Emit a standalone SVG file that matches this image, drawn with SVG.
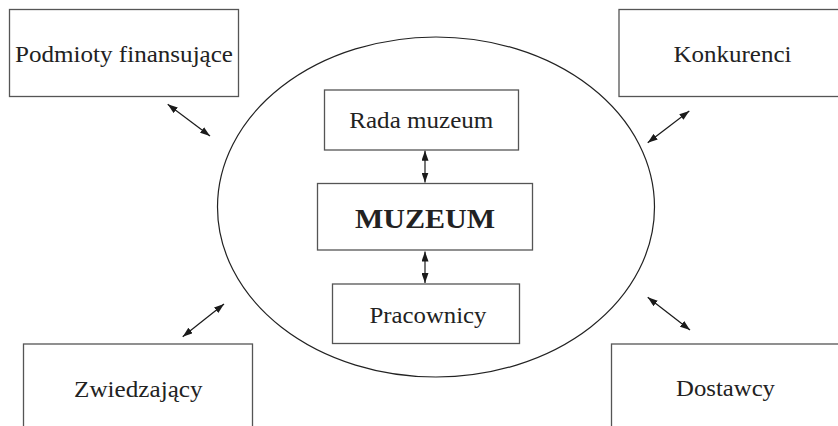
<svg xmlns="http://www.w3.org/2000/svg" width="838" height="426" viewBox="0 0 838 426">
  <defs>
    <marker id="head" viewBox="0 0 10 7" refX="10" refY="3.5" markerUnits="userSpaceOnUse" markerWidth="10" markerHeight="7" orient="auto-start-reverse">
      <path d="M0,0 L10,3.5 L0,7 z" fill="#1a1a1a"/>
    </marker>
  </defs>
  <style>
    .box { fill: #fff; stroke: #555; stroke-width: 1.3; }
    .ring { fill: none; stroke: #222; stroke-width: 1.2; }
    .lbl { font-family: "Liberation Serif", "Times New Roman", serif; font-size: 23px; fill: #222; text-anchor: middle; }
    .big { font-family: "Liberation Serif", "Times New Roman", serif; font-size: 27px; font-weight: bold; fill: #222; text-anchor: middle; }
    .link { stroke: #1a1a1a; stroke-width: 1.2; fill: none; marker-start: url(#head); marker-end: url(#head); }
  </style>
  <rect width="838" height="426" fill="#fff"/>

  <!-- museum environment -->
  <ellipse class="ring" cx="436" cy="207" rx="218.5" ry="170"/>

  <g id="podmioty">
    <rect class="box" x="9.5" y="9.5" width="229" height="87"/>
    <text class="lbl" x="124" y="62" textLength="218" lengthAdjust="spacingAndGlyphs">Podmioty finansujące</text>
  </g>
  <g id="konkurenci">
    <rect class="box" x="619" y="9.5" width="240" height="87"/>
    <text class="lbl" x="732.5" y="62" textLength="118" lengthAdjust="spacingAndGlyphs">Konkurenci</text>
  </g>
  <g id="zwiedzajacy">
    <rect class="box" x="23.5" y="344" width="229" height="100"/>
    <text class="lbl" x="138.3" y="396.5" textLength="128.5" lengthAdjust="spacingAndGlyphs">Zwiedzający</text>
  </g>
  <g id="dostawcy">
    <rect class="box" x="611.5" y="344" width="250" height="100"/>
    <text class="lbl" x="725.5" y="396" textLength="99" lengthAdjust="spacingAndGlyphs">Dostawcy</text>
  </g>
  <g id="rada">
    <rect class="box" x="324.5" y="90" width="194" height="60"/>
    <text class="lbl" x="421.3" y="128" textLength="144" lengthAdjust="spacingAndGlyphs">Rada muzeum</text>
  </g>
  <g id="muzeum">
    <rect class="box" x="317.5" y="183.5" width="215" height="66.5"/>
    <text class="big" x="425" y="227.5" textLength="140" lengthAdjust="spacingAndGlyphs">MUZEUM</text>
  </g>
  <g id="pracownicy">
    <rect class="box" x="332.5" y="284" width="187" height="59.5"/>
    <text class="lbl" x="428" y="323" textLength="117" lengthAdjust="spacingAndGlyphs">Pracownicy</text>
  </g>

  <g id="connectors">
    <line class="link" x1="167.7" y1="104.3" x2="210" y2="136"/>
    <line class="link" x1="689.3" y1="111" x2="647.7" y2="142.7"/>
    <line class="link" x1="182.7" y1="336.7" x2="224" y2="304"/>
    <line class="link" x1="647.7" y1="297.3" x2="690" y2="330"/>
    <line class="link" x1="425" y1="150.7" x2="425" y2="182.5"/>
    <line class="link" x1="425" y1="251.5" x2="425" y2="283"/>
  </g>
</svg>
